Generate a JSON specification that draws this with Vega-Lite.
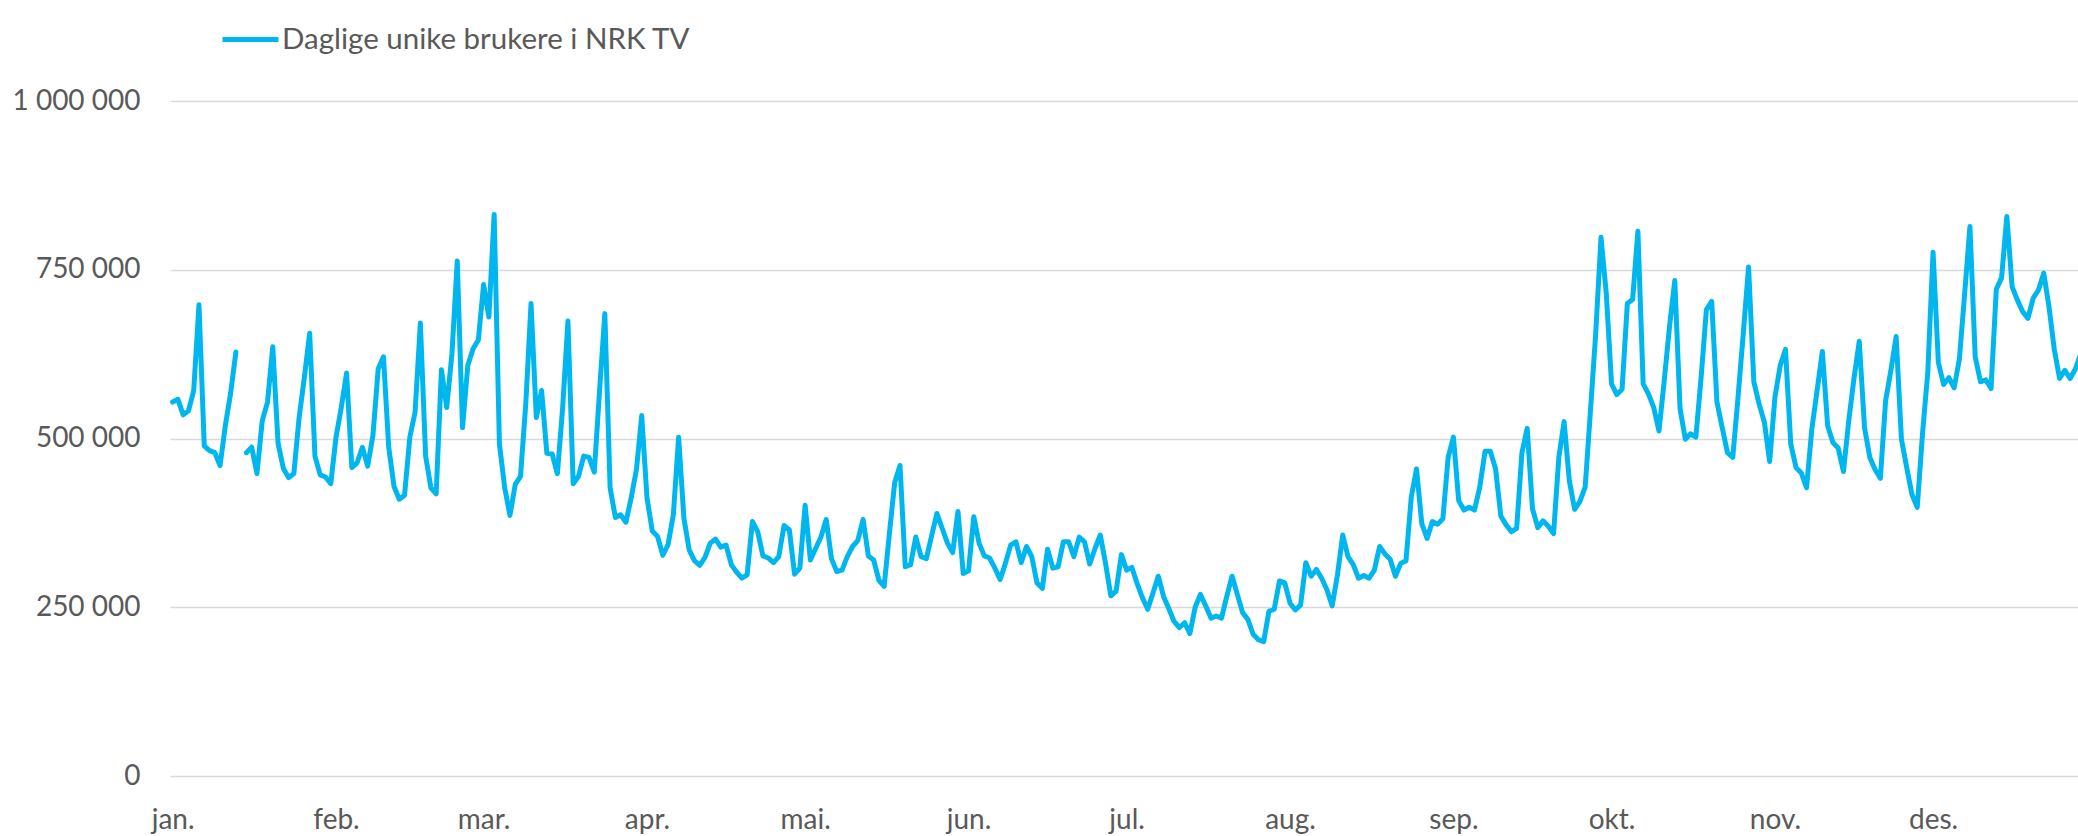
{
"$schema": "https://vega.github.io/schema/vega-lite/v6.json",
"width": 1908, "height": 675,
"autosize": {"type": "none"},
"padding": {"left": 170, "top": 101, "right": 0, "bottom": 60},
"background": "white",
"config": {"view": {"stroke": null}, "font": "Lato"},
"data": {"values": [
{"d":"2019-01-01","v":554000},{"d":"2019-01-02","v":558000},{"d":"2019-01-03","v":535000},{"d":"2019-01-04","v":541000},{"d":"2019-01-05","v":571000},{"d":"2019-01-06","v":698000},{"d":"2019-01-07","v":489000},{"d":"2019-01-08","v":482000},{"d":"2019-01-09","v":479000},{"d":"2019-01-10","v":460000},{"d":"2019-01-11","v":519000},{"d":"2019-01-12","v":567000},{"d":"2019-01-13","v":628000},{"d":"2019-01-14","v":null},{"d":"2019-01-15","v":479000},{"d":"2019-01-16","v":487000},{"d":"2019-01-17","v":448000},{"d":"2019-01-18","v":526000},{"d":"2019-01-19","v":554000},{"d":"2019-01-20","v":636000},{"d":"2019-01-21","v":493000},{"d":"2019-01-22","v":456000},{"d":"2019-01-23","v":442000},{"d":"2019-01-24","v":448000},{"d":"2019-01-25","v":531000},{"d":"2019-01-26","v":591000},{"d":"2019-01-27","v":656000},{"d":"2019-01-28","v":474000},{"d":"2019-01-29","v":446000},{"d":"2019-01-30","v":443000},{"d":"2019-01-31","v":433000},
{"d":"2019-02-01","v":502000},{"d":"2019-02-02","v":546000},{"d":"2019-02-03","v":597000},{"d":"2019-02-04","v":457000},{"d":"2019-02-05","v":464000},{"d":"2019-02-06","v":487000},{"d":"2019-02-07","v":459000},{"d":"2019-02-08","v":504000},{"d":"2019-02-09","v":603000},{"d":"2019-02-10","v":621000},{"d":"2019-02-11","v":487000},{"d":"2019-02-12","v":429000},{"d":"2019-02-13","v":410000},{"d":"2019-02-14","v":416000},{"d":"2019-02-15","v":502000},{"d":"2019-02-16","v":539000},{"d":"2019-02-17","v":671000},{"d":"2019-02-18","v":474000},{"d":"2019-02-19","v":427000},{"d":"2019-02-20","v":418000},{"d":"2019-02-21","v":602000},{"d":"2019-02-22","v":546000},{"d":"2019-02-23","v":626000},{"d":"2019-02-24","v":763000},{"d":"2019-02-25","v":516000},{"d":"2019-02-26","v":608000},{"d":"2019-02-27","v":633000},{"d":"2019-02-28","v":646000},
{"d":"2019-03-01","v":728000},{"d":"2019-03-02","v":680000},{"d":"2019-03-03","v":832000},{"d":"2019-03-04","v":492000},{"d":"2019-03-05","v":427000},{"d":"2019-03-06","v":386000},{"d":"2019-03-07","v":432000},{"d":"2019-03-08","v":444000},{"d":"2019-03-09","v":551000},{"d":"2019-03-10","v":700000},{"d":"2019-03-11","v":531000},{"d":"2019-03-12","v":571000},{"d":"2019-03-13","v":478000},{"d":"2019-03-14","v":477000},{"d":"2019-03-15","v":448000},{"d":"2019-03-16","v":546000},{"d":"2019-03-17","v":674000},{"d":"2019-03-18","v":433000},{"d":"2019-03-19","v":444000},{"d":"2019-03-20","v":474000},{"d":"2019-03-21","v":472000},{"d":"2019-03-22","v":450000},{"d":"2019-03-23","v":571000},{"d":"2019-03-24","v":685000},{"d":"2019-03-25","v":427000},{"d":"2019-03-26","v":383000},{"d":"2019-03-27","v":387000},{"d":"2019-03-28","v":376000},{"d":"2019-03-29","v":412000},{"d":"2019-03-30","v":454000},{"d":"2019-03-31","v":534000},
{"d":"2019-04-01","v":412000},{"d":"2019-04-02","v":363000},{"d":"2019-04-03","v":355000},{"d":"2019-04-04","v":327000},{"d":"2019-04-05","v":343000},{"d":"2019-04-06","v":387000},{"d":"2019-04-07","v":502000},{"d":"2019-04-08","v":382000},{"d":"2019-04-09","v":335000},{"d":"2019-04-10","v":319000},{"d":"2019-04-11","v":312000},{"d":"2019-04-12","v":324000},{"d":"2019-04-13","v":345000},{"d":"2019-04-14","v":351000},{"d":"2019-04-15","v":339000},{"d":"2019-04-16","v":342000},{"d":"2019-04-17","v":313000},{"d":"2019-04-18","v":302000},{"d":"2019-04-19","v":293000},{"d":"2019-04-20","v":298000},{"d":"2019-04-21","v":377000},{"d":"2019-04-22","v":362000},{"d":"2019-04-23","v":326000},{"d":"2019-04-24","v":323000},{"d":"2019-04-25","v":316000},{"d":"2019-04-26","v":325000},{"d":"2019-04-27","v":371000},{"d":"2019-04-28","v":365000},{"d":"2019-04-29","v":299000},{"d":"2019-04-30","v":308000},
{"d":"2019-05-01","v":401000},{"d":"2019-05-02","v":320000},{"d":"2019-05-03","v":337000},{"d":"2019-05-04","v":354000},{"d":"2019-05-05","v":380000},{"d":"2019-05-06","v":322000},{"d":"2019-05-07","v":303000},{"d":"2019-05-08","v":305000},{"d":"2019-05-09","v":325000},{"d":"2019-05-10","v":340000},{"d":"2019-05-11","v":349000},{"d":"2019-05-12","v":380000},{"d":"2019-05-13","v":326000},{"d":"2019-05-14","v":320000},{"d":"2019-05-15","v":290000},{"d":"2019-05-16","v":281000},{"d":"2019-05-17","v":360000},{"d":"2019-05-18","v":435000},{"d":"2019-05-19","v":460000},{"d":"2019-05-20","v":310000},{"d":"2019-05-21","v":313000},{"d":"2019-05-22","v":354000},{"d":"2019-05-23","v":325000},{"d":"2019-05-24","v":322000},{"d":"2019-05-25","v":356000},{"d":"2019-05-26","v":389000},{"d":"2019-05-27","v":367000},{"d":"2019-05-28","v":345000},{"d":"2019-05-29","v":331000},{"d":"2019-05-30","v":392000},{"d":"2019-05-31","v":300000},
{"d":"2019-06-01","v":304000},{"d":"2019-06-02","v":384000},{"d":"2019-06-03","v":345000},{"d":"2019-06-04","v":326000},{"d":"2019-06-05","v":323000},{"d":"2019-06-06","v":308000},{"d":"2019-06-07","v":291000},{"d":"2019-06-08","v":315000},{"d":"2019-06-09","v":342000},{"d":"2019-06-10","v":347000},{"d":"2019-06-11","v":316000},{"d":"2019-06-12","v":340000},{"d":"2019-06-13","v":325000},{"d":"2019-06-14","v":286000},{"d":"2019-06-15","v":278000},{"d":"2019-06-16","v":336000},{"d":"2019-06-17","v":308000},{"d":"2019-06-18","v":310000},{"d":"2019-06-19","v":347000},{"d":"2019-06-20","v":347000},{"d":"2019-06-21","v":325000},{"d":"2019-06-22","v":354000},{"d":"2019-06-23","v":347000},{"d":"2019-06-24","v":314000},{"d":"2019-06-25","v":337000},{"d":"2019-06-26","v":357000},{"d":"2019-06-27","v":315000},{"d":"2019-06-28","v":267000},{"d":"2019-06-29","v":274000},{"d":"2019-06-30","v":328000},
{"d":"2019-07-01","v":305000},{"d":"2019-07-02","v":309000},{"d":"2019-07-03","v":285000},{"d":"2019-07-04","v":264000},{"d":"2019-07-05","v":247000},{"d":"2019-07-06","v":271000},{"d":"2019-07-07","v":296000},{"d":"2019-07-08","v":266000},{"d":"2019-07-09","v":248000},{"d":"2019-07-10","v":229000},{"d":"2019-07-11","v":220000},{"d":"2019-07-12","v":227000},{"d":"2019-07-13","v":211000},{"d":"2019-07-14","v":250000},{"d":"2019-07-15","v":269000},{"d":"2019-07-16","v":252000},{"d":"2019-07-17","v":234000},{"d":"2019-07-18","v":237000},{"d":"2019-07-19","v":234000},{"d":"2019-07-20","v":266000},{"d":"2019-07-21","v":296000},{"d":"2019-07-22","v":269000},{"d":"2019-07-23","v":242000},{"d":"2019-07-24","v":232000},{"d":"2019-07-25","v":210000},{"d":"2019-07-26","v":202000},{"d":"2019-07-27","v":199000},{"d":"2019-07-28","v":244000},{"d":"2019-07-29","v":247000},{"d":"2019-07-30","v":289000},{"d":"2019-07-31","v":286000},
{"d":"2019-08-01","v":256000},{"d":"2019-08-02","v":246000},{"d":"2019-08-03","v":253000},{"d":"2019-08-04","v":316000},{"d":"2019-08-05","v":296000},{"d":"2019-08-06","v":306000},{"d":"2019-08-07","v":293000},{"d":"2019-08-08","v":276000},{"d":"2019-08-09","v":252000},{"d":"2019-08-10","v":298000},{"d":"2019-08-11","v":357000},{"d":"2019-08-12","v":325000},{"d":"2019-08-13","v":313000},{"d":"2019-08-14","v":293000},{"d":"2019-08-15","v":297000},{"d":"2019-08-16","v":293000},{"d":"2019-08-17","v":305000},{"d":"2019-08-18","v":340000},{"d":"2019-08-19","v":329000},{"d":"2019-08-20","v":321000},{"d":"2019-08-21","v":296000},{"d":"2019-08-22","v":315000},{"d":"2019-08-23","v":319000},{"d":"2019-08-24","v":413000},{"d":"2019-08-25","v":455000},{"d":"2019-08-26","v":374000},{"d":"2019-08-27","v":352000},{"d":"2019-08-28","v":377000},{"d":"2019-08-29","v":373000},{"d":"2019-08-30","v":381000},{"d":"2019-08-31","v":472000},
{"d":"2019-09-01","v":502000},{"d":"2019-09-02","v":408000},{"d":"2019-09-03","v":394000},{"d":"2019-09-04","v":398000},{"d":"2019-09-05","v":394000},{"d":"2019-09-06","v":428000},{"d":"2019-09-07","v":481000},{"d":"2019-09-08","v":481000},{"d":"2019-09-09","v":455000},{"d":"2019-09-10","v":385000},{"d":"2019-09-11","v":372000},{"d":"2019-09-12","v":362000},{"d":"2019-09-13","v":367000},{"d":"2019-09-14","v":479000},{"d":"2019-09-15","v":515000},{"d":"2019-09-16","v":396000},{"d":"2019-09-17","v":368000},{"d":"2019-09-18","v":378000},{"d":"2019-09-19","v":370000},{"d":"2019-09-20","v":359000},{"d":"2019-09-21","v":472000},{"d":"2019-09-22","v":525000},{"d":"2019-09-23","v":437000},{"d":"2019-09-24","v":395000},{"d":"2019-09-25","v":407000},{"d":"2019-09-26","v":428000},{"d":"2019-09-27","v":541000},{"d":"2019-09-28","v":656000},{"d":"2019-09-29","v":798000},{"d":"2019-09-30","v":715000},
{"d":"2019-10-01","v":581000},{"d":"2019-10-02","v":565000},{"d":"2019-10-03","v":573000},{"d":"2019-10-04","v":700000},{"d":"2019-10-05","v":706000},{"d":"2019-10-06","v":807000},{"d":"2019-10-07","v":581000},{"d":"2019-10-08","v":566000},{"d":"2019-10-09","v":546000},{"d":"2019-10-10","v":511000},{"d":"2019-10-11","v":586000},{"d":"2019-10-12","v":666000},{"d":"2019-10-13","v":734000},{"d":"2019-10-14","v":544000},{"d":"2019-10-15","v":499000},{"d":"2019-10-16","v":507000},{"d":"2019-10-17","v":502000},{"d":"2019-10-18","v":591000},{"d":"2019-10-19","v":691000},{"d":"2019-10-20","v":703000},{"d":"2019-10-21","v":554000},{"d":"2019-10-22","v":516000},{"d":"2019-10-23","v":479000},{"d":"2019-10-24","v":472000},{"d":"2019-10-25","v":561000},{"d":"2019-10-26","v":656000},{"d":"2019-10-27","v":754000},{"d":"2019-10-28","v":584000},{"d":"2019-10-29","v":551000},{"d":"2019-10-30","v":524000},{"d":"2019-10-31","v":466000},
{"d":"2019-11-01","v":561000},{"d":"2019-11-02","v":608000},{"d":"2019-11-03","v":632000},{"d":"2019-11-04","v":492000},{"d":"2019-11-05","v":457000},{"d":"2019-11-06","v":449000},{"d":"2019-11-07","v":427000},{"d":"2019-11-08","v":514000},{"d":"2019-11-09","v":571000},{"d":"2019-11-10","v":629000},{"d":"2019-11-11","v":519000},{"d":"2019-11-12","v":494000},{"d":"2019-11-13","v":486000},{"d":"2019-11-14","v":451000},{"d":"2019-11-15","v":526000},{"d":"2019-11-16","v":589000},{"d":"2019-11-17","v":644000},{"d":"2019-11-18","v":516000},{"d":"2019-11-19","v":472000},{"d":"2019-11-20","v":454000},{"d":"2019-11-21","v":441000},{"d":"2019-11-22","v":556000},{"d":"2019-11-23","v":601000},{"d":"2019-11-24","v":651000},{"d":"2019-11-25","v":499000},{"d":"2019-11-26","v":457000},{"d":"2019-11-27","v":417000},{"d":"2019-11-28","v":398000},{"d":"2019-11-29","v":507000},{"d":"2019-11-30","v":598000},
{"d":"2019-12-01","v":776000},{"d":"2019-12-02","v":613000},{"d":"2019-12-03","v":580000},{"d":"2019-12-04","v":590000},{"d":"2019-12-05","v":575000},{"d":"2019-12-06","v":618000},{"d":"2019-12-07","v":715000},{"d":"2019-12-08","v":814000},{"d":"2019-12-09","v":621000},{"d":"2019-12-10","v":584000},{"d":"2019-12-11","v":587000},{"d":"2019-12-12","v":574000},{"d":"2019-12-13","v":721000},{"d":"2019-12-14","v":738000},{"d":"2019-12-15","v":829000},{"d":"2019-12-16","v":725000},{"d":"2019-12-17","v":705000},{"d":"2019-12-18","v":688000},{"d":"2019-12-19","v":678000},{"d":"2019-12-20","v":708000},{"d":"2019-12-21","v":720000},{"d":"2019-12-22","v":745000},{"d":"2019-12-23","v":695000},{"d":"2019-12-24","v":632000},{"d":"2019-12-25","v":589000},{"d":"2019-12-26","v":601000},{"d":"2019-12-27","v":589000},{"d":"2019-12-28","v":603000},{"d":"2019-12-29","v":625000}
]},
"mark": {"type": "line", "strokeWidth": 5, "strokeCap": "round", "strokeJoin": "round", "clip": true},
"encoding": {
"x": {"field": "d", "type": "temporal",
 "scale": {"type": "utc", "domain": [{"year": 2018, "month": 12, "date": 31, "hours": 12, "utc": true}, {"year": 2019, "month": 12, "date": 28, "hours": 12, "utc": true}]},
 "axis": {"title": null,
  "values": [{"year":2019,"month":1,"date":1,"utc":true},{"year":2019,"month":2,"date":1,"utc":true},{"year":2019,"month":3,"date":1,"utc":true},{"year":2019,"month":4,"date":1,"utc":true},{"year":2019,"month":5,"date":1,"utc":true},{"year":2019,"month":6,"date":1,"utc":true},{"year":2019,"month":7,"date":1,"utc":true},{"year":2019,"month":8,"date":1,"utc":true},{"year":2019,"month":9,"date":1,"utc":true},{"year":2019,"month":10,"date":1,"utc":true},{"year":2019,"month":11,"date":1,"utc":true},{"year":2019,"month":12,"date":1,"utc":true}],
  "labelExpr": "['jan.','feb.','mar.','apr.','mai.','jun.','jul.','aug.','sep.','okt.','nov.','des.'][utcmonth(datum.value)]",
  "grid": false, "ticks": false, "domain": false,
  "labelFont": "Lato", "labelFontSize": 28, "labelColor": "#595959",
  "labelPadding": 52, "labelBaseline": "alphabetic", "labelAlign": "center",
  "labelFlush": false, "labelOverlap": false}},
"y": {"field": "v", "type": "quantitative",
 "scale": {"domain": [0, 1000000], "nice": false},
 "axis": {"title": null, "values": [0, 250000, 500000, 750000, 1000000],
  "labelExpr": "replace(replace(format(datum.value, ','), ',', ' '), ',', ' ')",
  "grid": true, "gridColor": "#D9D9D9", "gridWidth": 1.3,
  "ticks": false, "domain": false,
  "labelFont": "Lato", "labelFontSize": 28, "labelColor": "#595959", "labelPadding": 30}},
"color": {"datum": "Daglige unike brukere i NRK TV", "type": "nominal",
 "scale": {"range": ["#00B6EF"]},
 "legend": {"orient": "none", "legendX": 50, "legendY": -92, "title": null,
  "symbolType": "stroke", "symbolSize": 3136, "symbolStrokeWidth": 5,
  "labelFont": "Lato", "labelFontSize": 29.5, "labelColor": "#595959",
  "labelOffset": 1, "labelLimit": 0, "padding": 0}}
}
}
